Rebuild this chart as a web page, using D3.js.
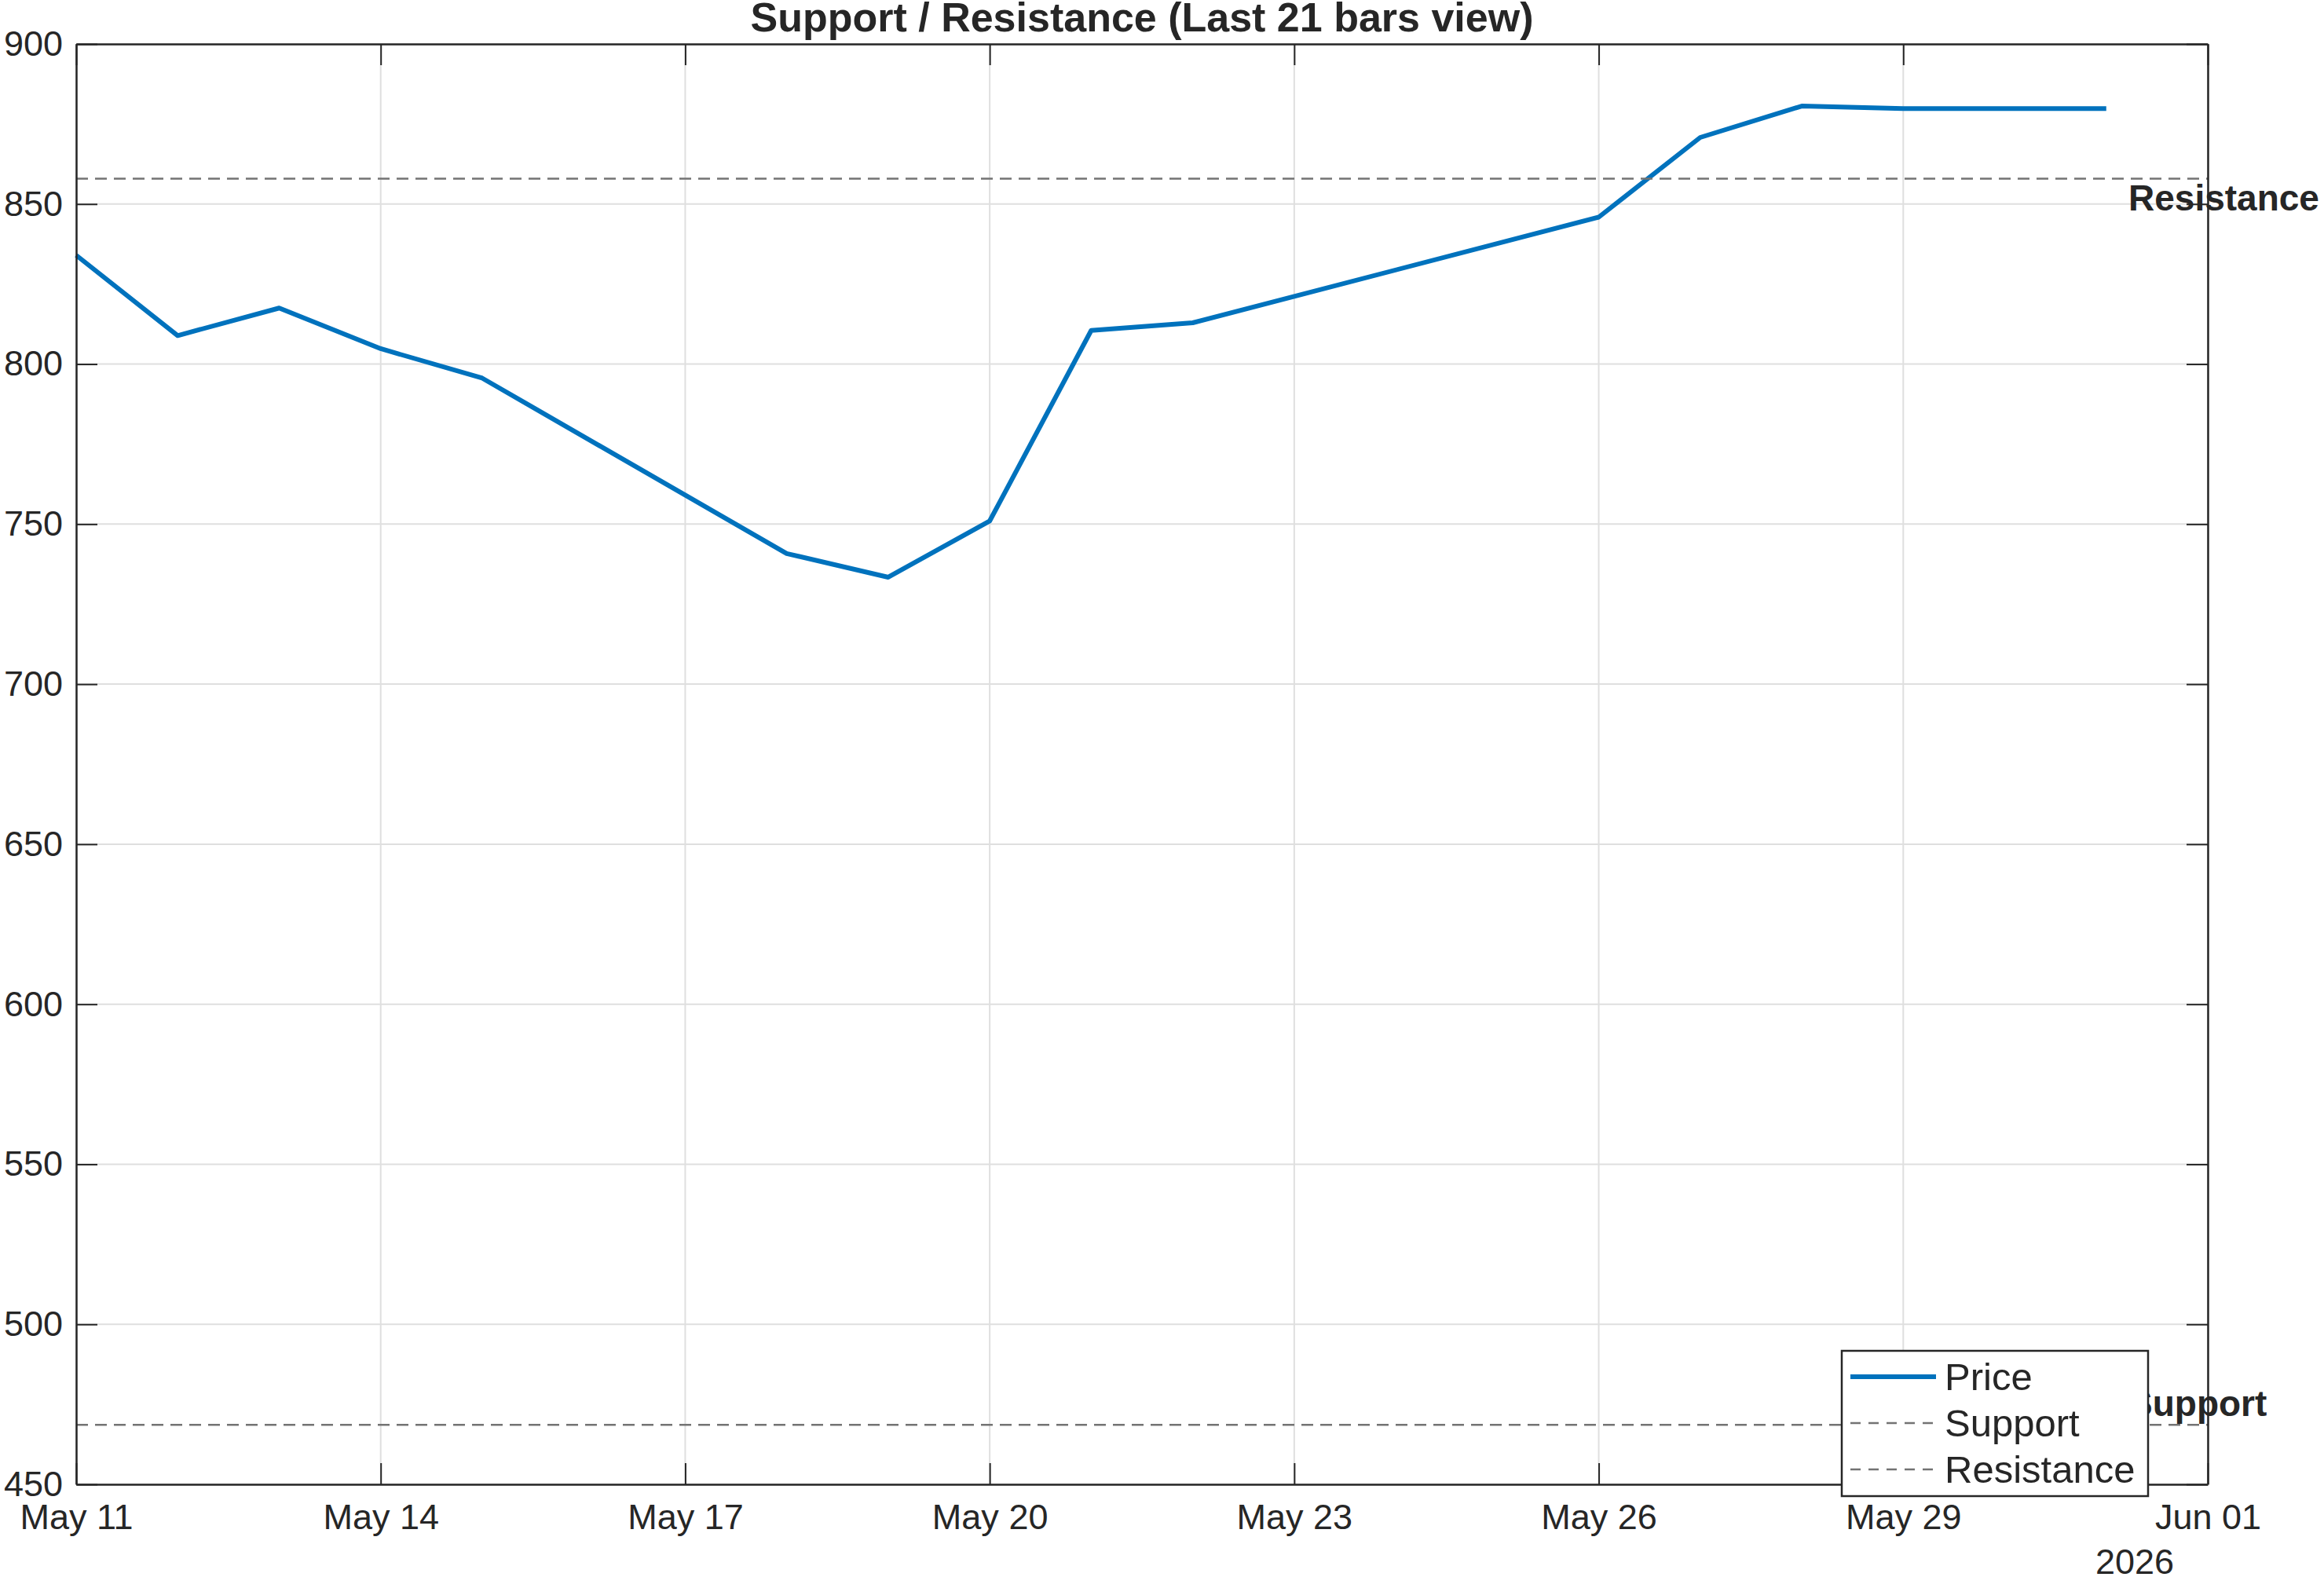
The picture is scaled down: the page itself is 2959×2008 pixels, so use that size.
<!DOCTYPE html>
<meta charset="utf-8">
<script src="https://d3js.org/d3.v7.min.js"></script>
<style>
  body { margin: 0; background: #fff; }
  text { font-family: "Liberation Sans", Arial, Helvetica, sans-serif; fill: #262626; }
</style>
<body>
<div id="my_dataviz"></div>
<script>
// price series (trading days only)
var dates = ["2026-05-11", "2026-05-12", "2026-05-13", "2026-05-14", "2026-05-15",
  "2026-05-18", "2026-05-19", "2026-05-20", "2026-05-21", "2026-05-22",
  "2026-05-26", "2026-05-27", "2026-05-28", "2026-05-29", "2026-05-31"];
var prices = [834.0, 808.9, 817.5, 804.8, 795.6,
  740.8, 733.4, 751.0, 810.5, 812.9,
  845.9, 870.8, 880.6, 879.8, 879.8];

// levels
var supportLevel = 468.6;
var resistanceLevel = 857.9;

// axes
var xDomain = ["2026-05-11", "2026-06-01"];
var xTicks = ["2026-05-11", "2026-05-14", "2026-05-17", "2026-05-20", "2026-05-23", "2026-05-26", "2026-05-29", "2026-06-01"];
var yTicks = [450, 500, 550, 600, 650, 700, 750, 800, 850, 900];
var legendLabels = ["Price", "Support", "Resistance"];
var titleText = "Support / Resistance (Last 21 bars view)";
var yearLabel = "2026";

var W = 2959, H = 2008;
var margin = { top: 56, right: 148, bottom: 118, left: 97 };
var width = W - margin.left - margin.right,
  height = H - margin.top - margin.bottom;

var parse = d3.timeParse("%Y-%m-%d");
var fmt = d3.timeFormat("%b %d");

var svg = d3.select("#my_dataviz")
  .append("svg")
  .attr("width", W)
  .attr("height", H);

var x = d3.scaleTime()
  .domain(xDomain.map(parse))
  .range([margin.left, margin.left + width]);
var y = d3.scaleLinear()
  .domain([450, 900])
  .range([margin.top + height, margin.top]);

// grid
var grid = svg.append("g");
grid.selectAll(".vg")
  .data(xTicks.map(parse))
  .enter().append("line")
  .attr("x1", function (d) { return x(d); })
  .attr("x2", function (d) { return x(d); })
  .attr("y1", y(450)).attr("y2", y(900))
  .attr("stroke", "#dfdfdf").attr("stroke-width", 2);
grid.selectAll(".hg")
  .data(yTicks)
  .enter().append("line")
  .attr("y1", function (d) { return y(d); })
  .attr("y2", function (d) { return y(d); })
  .attr("x1", x.range()[0]).attr("x2", x.range()[1])
  .attr("stroke", "#dfdfdf").attr("stroke-width", 2);

// price line
var points = dates.map(function (d, i) { return [parse(d), prices[i]]; });
svg.append("path")
  .datum(points)
  .attr("fill", "none")
  .attr("stroke", "#0072BD")
  .attr("stroke-width", 6)
  .attr("stroke-linejoin", "round")
  .attr("d", d3.line()
    .x(function (d) { return x(d[0]); })
    .y(function (d) { return y(d[1]); }));

// support / resistance lines
[supportLevel, resistanceLevel].forEach(function (v) {
  svg.append("line")
    .attr("x1", x.range()[0]).attr("x2", x.range()[1])
    .attr("y1", y(v)).attr("y2", y(v))
    .attr("stroke", "#737373")
    .attr("stroke-width", 2.5)
    .attr("stroke-dasharray", "15,9");
});

// axes (ticks inside, box all round)
var tickLen = 27;
var xAxis = svg.append("g")
  .attr("transform", "translate(0," + y(450) + ")")
  .call(d3.axisBottom(x).tickValues(xTicks.map(parse)).tickFormat(fmt).tickSizeInner(-tickLen).tickSizeOuter(0).tickPadding(25));
var xAxisTop = svg.append("g")
  .attr("transform", "translate(0," + y(900) + ")")
  .call(d3.axisTop(x).tickValues(xTicks.map(parse)).tickFormat("").tickSizeInner(-tickLen).tickSizeOuter(0));
var yAxis = svg.append("g")
  .attr("transform", "translate(" + x.range()[0] + ",0)")
  .call(d3.axisLeft(y).tickValues(yTicks).tickSizeInner(-tickLen).tickSizeOuter(0).tickPadding(17));
var yAxisRight = svg.append("g")
  .attr("transform", "translate(" + x.range()[1] + ",0)")
  .call(d3.axisRight(y).tickValues(yTicks).tickFormat("").tickSizeInner(-tickLen).tickSizeOuter(0));

[xAxis, xAxisTop, yAxis, yAxisRight].forEach(function (a) {
  a.select(".domain").attr("stroke", "#262626").attr("stroke-width", 2.5);
  a.selectAll(".tick line").attr("stroke", "#262626").attr("stroke-width", 2);
  a.selectAll(".tick text").attr("font-size", 45).attr("fill", "#262626")
    .style("font-family", "'Liberation Sans', Arial, sans-serif");
});
xAxis.selectAll(".tick text").attr("dy", "0.71em");

// year under the last tick
svg.append("text")
  .attr("x", 2718).attr("y", 2004)
  .attr("text-anchor", "middle")
  .attr("font-size", 45)
  .text(yearLabel);

// title
svg.append("text")
  .attr("x", (x.range()[0] + x.range()[1]) / 2)
  .attr("y", 40)
  .attr("text-anchor", "middle")
  .attr("font-size", 52)
  .attr("font-weight", "bold")
  .text(titleText);

// level labels
svg.append("text")
  .attr("x", 2710).attr("y", 268)
  .attr("font-size", 46).attr("font-weight", "bold")
  .text("Resistance");
svg.append("text")
  .attr("x", 2710).attr("y", 1803)
  .attr("font-size", 46).attr("font-weight", "bold")
  .text("Support");

// legend
var lg = svg.append("g").attr("transform", "translate(2345,1720)");
lg.append("rect")
  .attr("width", 390).attr("height", 185)
  .attr("fill", "#fff")
  .attr("stroke", "#262626").attr("stroke-width", 2.5);
legendLabels.forEach(function (name, i) {
  var cy = 33 + i * 59;
  lg.append("line")
    .attr("x1", 11).attr("x2", 120)
    .attr("y1", cy).attr("y2", cy)
    .attr("stroke", i === 0 ? "#0072BD" : "#737373")
    .attr("stroke-width", i === 0 ? 6 : 2.5)
    .attr("stroke-dasharray", i === 0 ? null : "13,10");
  lg.append("text")
    .attr("x", 131).attr("y", cy + 17)
    .attr("font-size", 49)
    .text(name);
});
</script>
</body>
